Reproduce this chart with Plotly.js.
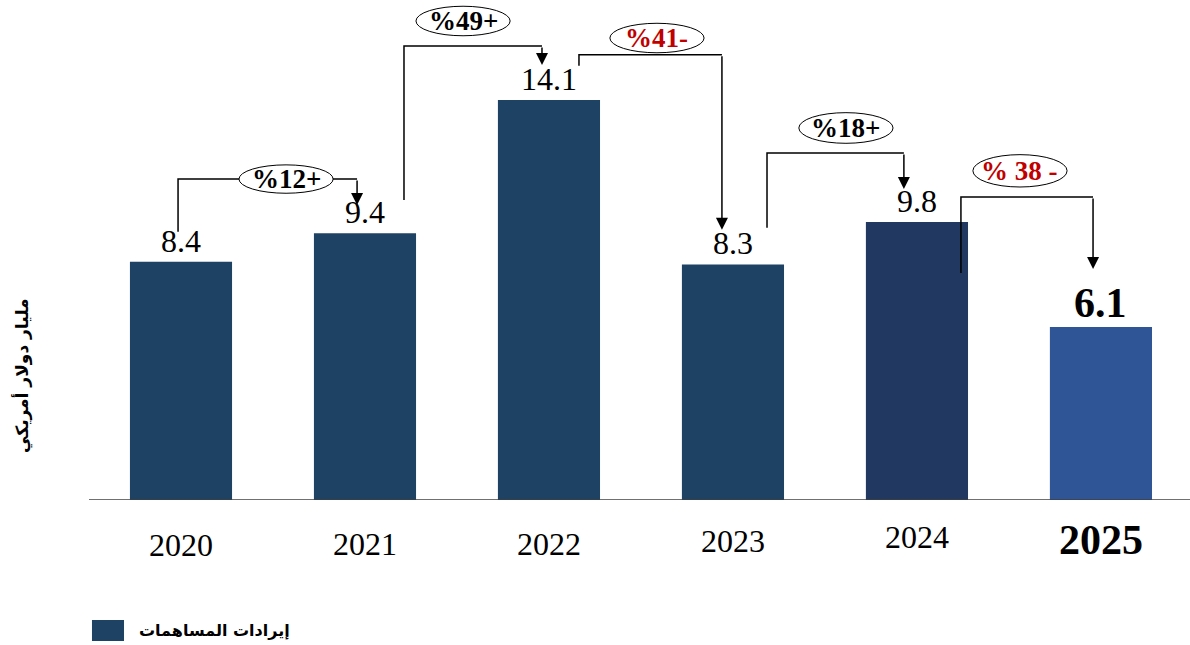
<!DOCTYPE html>
<html>
<head>
<meta charset="utf-8">
<script src="https://cdn.plot.ly/plotly-3.0.1.min.js"></script>
<style>html,body{margin:0;padding:0;background:#fff;}#chart{width:1190px;height:645px;}</style>
</head>
<body>
<div id="chart"></div>
<script>
// ---- data ----
const years = ['2020', '2021', '2022', '2023', '2024', '2025'];
const values = [8.4, 9.4, 14.1, 8.3, 9.8, 6.1];
const changeLabels = ['%12+', '%49+', '%41-', '%18+', '% 38 -'];
const changeUp = [true, true, false, true, false];
const seriesName = 'إيرادات المساهمات';
const yTitle = 'مليار دولار أمريكي';

// ---- styles ----
const barColors = ['#1e4263', '#1e4263', '#1e4263', '#1e4263', '#213860', '#2f5597'];
const serif = 'Liberation Serif, Times New Roman, serif';
const arabic = 'DejaVu Sans, sans-serif';
const yearLabelY = [-0.09, -0.088, -0.088, -0.082, -0.074, -0.08];

// connector geometry (layout helpers, in axis units)
const conn = [
  {x0: -0.016, y0: 9.45, level: 11.31, x1: 0.957, tip: 10.40, ex: 0.571, ey: 11.31, h: 0.50},
  {x0: 1.212, y0: 10.57, level: 16.00, x1: 1.962, tip: 15.33, ex: 1.533, ey: 16.88, h: 0.52},
  {x0: 2.163, y0: 15.30, level: 15.69, x1: 2.940, tip: 9.52, ex: 2.587, ey: 16.28, h: 0.52},
  {x0: 3.185, y0: 9.59, level: 12.23, x1: 3.929, tip: 10.96, ex: 3.614, ey: 13.11, h: 0.54},
  {x0: 4.239, y0: 8.00, level: 10.68, x1: 4.957, tip: 8.14, ex: 4.560, ey: 11.60, h: 0.57}
];

const idx = years.map((_, i) => i);

const trace = {
  type: 'bar',
  x: idx,
  y: values,
  width: 0.555,
  marker: {color: barColors},
  hoverinfo: 'skip',
  showlegend: false
};

const shapes = [];
const annotations = [];

conn.forEach((c, k) => {
  shapes.push({
    type: 'path', xref: 'x', yref: 'y',
    path: `M ${c.x0},${c.y0} L ${c.x0},${c.level} L ${c.x1},${c.level}`,
    line: {color: '#000', width: 1.5}
  });
  annotations.push({
    xref: 'x', yref: 'y', axref: 'x', ayref: 'y',
    x: c.x1, y: c.tip, ax: c.x1, ay: c.level,
    text: '', showarrow: true, arrowhead: 2, arrowsize: 1.6, arrowwidth: 1.5, arrowcolor: '#000'
  });
  shapes.push({
    type: 'circle', xref: 'x', yref: 'y',
    x0: c.ex - 0.256, x1: c.ex + 0.256, y0: c.ey - c.h, y1: c.ey + c.h,
    fillcolor: '#fff', line: {color: '#000', width: 1}
  });
  annotations.push({
    xref: 'x', yref: 'y', x: c.ex, y: c.ey, text: '<b>' + changeLabels[k] + '</b>',
    showarrow: false, xanchor: 'center', yanchor: 'middle',
    font: {family: serif, size: 27, color: changeUp[k] ? '#000' : '#c00000'}
  });
});

// value labels and year labels
values.forEach((v, i) => {
  const last = i === values.length - 1;
  annotations.push({
    xref: 'x', yref: 'y', x: i, y: v,
    text: last ? '<b>' + v.toFixed(1) + '</b>' : v.toFixed(1),
    showarrow: false, xanchor: 'center', yanchor: 'middle',
    yshift: last ? 24 : 21,
    font: {family: serif, size: last ? 42 : 32, color: '#000'}
  });
  annotations.push({
    xref: 'x', yref: 'paper', x: i, y: yearLabelY[i],
    text: last ? '<b>' + years[i] + '</b>' : years[i],
    showarrow: false, xanchor: 'center', yanchor: 'middle',
    font: {family: serif, size: last ? 42 : 32, color: '#000'}
  });
});

// y title
annotations.push({
  xref: 'paper', yref: 'paper', x: -0.0609, y: 0.25, textangle: -90,
  text: '<b>' + yTitle + '</b>', showarrow: false, xanchor: 'center', yanchor: 'middle',
  font: {family: arabic, size: 17, color: '#000'}
});

// legend
shapes.push({
  type: 'rect', xref: 'paper', yref: 'paper',
  x0: 0.0027, x1: 0.0318, y0: -0.282, y1: -0.24,
  fillcolor: barColors[0], line: {width: 0}
});
annotations.push({
  xref: 'paper', yref: 'paper', x: 0.0436, y: -0.261,
  text: '<b>' + seriesName + '</b>', showarrow: false, xanchor: 'left', yanchor: 'middle',
  font: {family: arabic, size: 16, color: '#000'}
});

const layout = {
  width: 1190, height: 645,
  margin: {l: 89, r: 0, t: 0, b: 145, pad: 0},
  paper_bgcolor: '#fff', plot_bgcolor: '#fff',
  showlegend: false,
  xaxis: {
    range: [-0.5, 5.484], showticklabels: false, ticks: '', showgrid: false, zeroline: false,
    showline: false, fixedrange: true
  },
  yaxis: {
    range: [0, 17.62], showticklabels: false, ticks: '', showgrid: false, zeroline: false,
    showline: false, fixedrange: true
  },
  shapes: shapes.concat([{
    type: 'line', xref: 'paper', yref: 'y', x0: 0, x1: 1, y0: 0, y1: 0,
    line: {color: '#404040', width: 1.5}, layer: 'above'
  }]),
  annotations: annotations
};

Plotly.newPlot('chart', [trace], layout, {displayModeBar: false, staticPlot: true});
</script>
</body>
</html>
